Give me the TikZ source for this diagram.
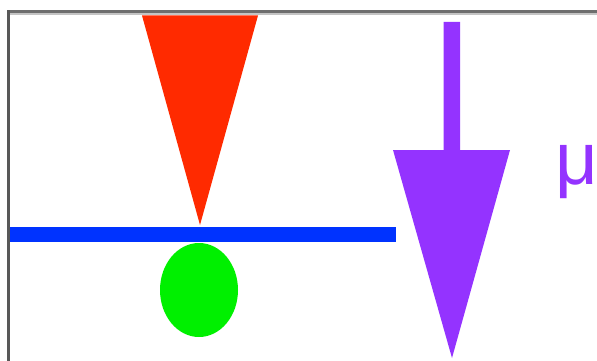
\documentclass[tikz,border=0pt]{standalone}
\usepackage{fontspec}
\setmainfont{Liberation Sans}
\definecolor{tipred}{HTML}{FF2A00}
\definecolor{barblue}{HTML}{0033FF}
\definecolor{ballgreen}{HTML}{00F000}
\definecolor{arrowpurple}{HTML}{9433FF}
\definecolor{framedark}{HTML}{6E6E6E}
\definecolor{framelight}{HTML}{C4C4C4}
\begin{document}
\begin{tikzpicture}[x=1pt,y=-1pt]
\useasboundingbox (0,0) rectangle (597,361);
\fill[white] (0,0) rectangle (597,361);
% frame
\fill[framelight] (10,13) rectangle (597,15.5);
\fill[framedark] (7,10) rectangle (597,13);
\fill[framedark!80!black] (7,10) rectangle (10,361);
% red tip
\fill[tipred] (142,15.5) -- (258,15.5) -- (200,225) -- cycle;
% blue bar
\fill[barblue] (10,227) rectangle (396,242);
% green ball
\fill[ballgreen] (199,290) ellipse [x radius=39, y radius=47];
% purple arrow
\fill[arrowpurple] (443.5,22) -- (460,22) -- (460,150) -- (510,150) -- (452,358) -- (393,150) -- (443.5,150) -- cycle;
% mu
\node[text=arrowpurple, font=\fontsize{74}{74}\selectfont, inner sep=0, anchor=base west] (mu) at (555,184) {μ};
\end{tikzpicture}
\end{document}
